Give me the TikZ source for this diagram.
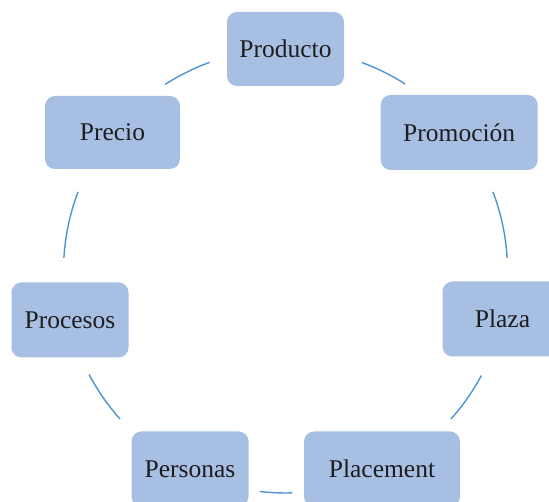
\documentclass[tikz,border=0pt]{standalone}
\usepackage{fontspec}
\setmainfont{Liberation Serif}
\definecolor{boxfill}{HTML}{A7BFE2}
\definecolor{arcblue}{HTML}{4F94D4}
\definecolor{txt}{HTML}{1E1E1E}
\begin{document}
\begin{tikzpicture}[x=1pt,y=1pt,
  box/.style={draw=none, fill=boxfill, rounded corners=10pt, inner sep=0pt,
    minimum height=75pt, text=txt, font=\fontsize{25.5}{30}\selectfont},
  cyc/.style={draw=arcblue, line width=1.4pt}]
\useasboundingbox (0,0) rectangle (549,502);
\clip (0,0) rectangle (549,502);
\fill[white] (0,0) rectangle (549,502);
\coordinate (c) at (285.5,231);
\def\R{222}
\node[box, minimum width=117pt, minimum height=74pt] (producto) at (285.5,453) {Producto};
\node[box, minimum width=157pt] (promocion) at (459.2,369.5) {Promoción};
\node[box, minimum width=120pt] (plaza) at (502.5,183) {Plaza};
\node[box, minimum width=156pt] (placement) at (382,33) {Placement};
\node[box, minimum width=117pt] (personas) at (190,33) {Personas};
\node[box, minimum width=117pt] (procesos) at (70,182) {Procesos};
\node[box, minimum width=135pt, minimum height=73pt] (precio) at (112.5,369.5) {Precio};
% connecting arcs of the cycle
\draw[cyc] ([shift={(69.9:\R)}]c) arc[start angle=69.9, end angle=57.4, radius=\R];
\draw[cyc] ([shift={(20.9:\R)}]c) arc[start angle=20.9, end angle=3.4, radius=\R];
\draw[cyc] ([shift={(-28.1:\R)}]c) arc[start angle=-28.1, end angle=-41.8, radius=\R];
\draw[cyc] ([shift={(-88.3:\R)}]c) arc[start angle=-88.3, end angle=-96.6, radius=\R];
\draw[cyc] ([shift={(-138.2:\R)}]c) arc[start angle=-138.2, end angle=-152.2, radius=\R];
\draw[cyc] ([shift={(176.6:\R)}]c) arc[start angle=176.6, end angle=159.1, radius=\R];
\draw[cyc] ([shift={(122.8:\R)}]c) arc[start angle=122.8, end angle=110, radius=\R];
\end{tikzpicture}
\end{document}
